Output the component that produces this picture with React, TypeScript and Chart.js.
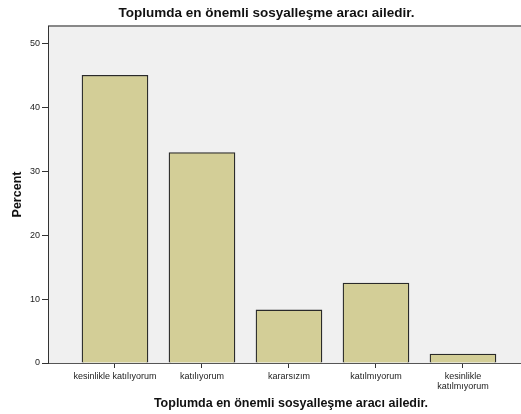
import { useEffect, useRef } from 'react';
import { Chart, registerables } from 'chart.js';

Chart.register(...registerables);

const TITLE = 'Toplumda en önemli sosyalleşme aracı ailedir.';
const X_TITLE = 'Toplumda en önemli sosyalleşme aracı ailedir.';
const Y_TITLE = 'Percent';
const categories: (string | string[])[] = [
  'kesinlikle katılıyorum',
  'katılıyorum',
  'kararsızım',
  'katılmıyorum',
  ['kesinlikle', 'katılmıyorum'],
];
const percents = [45.0, 32.9, 8.3, 12.5, 1.4];
const yTicks = [0, 10, 20, 30, 40, 50];

const FONT = '"Liberation Sans", Arial, sans-serif';

const frame = {
  id: 'spssFrame',
  beforeDraw(chart: any) {
    const { ctx, chartArea } = chart;
    ctx.save();
    ctx.fillStyle = '#f0f0f0';
    ctx.fillRect(chartArea.left, chartArea.top, chartArea.right - chartArea.left, chartArea.bottom - chartArea.top);
    ctx.strokeStyle = '#888888';
    ctx.lineWidth = 2;
    ctx.beginPath();
    ctx.moveTo(chartArea.left, chartArea.top);
    ctx.lineTo(chartArea.right, chartArea.top);
    ctx.stroke();
    ctx.restore();
  },
  afterDraw(chart: any) {
    const { ctx } = chart;
    ctx.save();
    ctx.fillStyle = '#111111';
    ctx.textAlign = 'center';
    ctx.textBaseline = 'middle';
    ctx.font = `bold 13.5px ${FONT}`;
    ctx.fillText(TITLE, 266.5, 13);
    ctx.font = `bold 12.5px ${FONT}`;
    ctx.fillText(X_TITLE, 291, 404);
    ctx.restore();
  },
};

export default function App() {
  const ref = useRef<HTMLCanvasElement | null>(null);

  useEffect(() => {
    if (!ref.current) return;
    const chart = new Chart(ref.current, {
      type: 'bar',
      data: {
        datasets: [
          {
            data: percents.map((v, i) => ({ x: i, y: v })),
            backgroundColor: '#d3ce97',
            borderColor: '#2a2a2a',
            borderWidth: 1.3,
            barThickness: 66,
          },
        ],
      },
      options: {
        responsive: false,
        animation: false,
        layout: { padding: { top: 26, left: 0, right: 0, bottom: 0 } },
        plugins: {
          legend: { display: false },
          tooltip: { enabled: false },
          title: { display: false },
        },
        scales: {
          x: {
            type: 'linear',
            min: -0.77,
            max: 4.667,
            offset: false,
            afterBuildTicks: (s: any) => {
              s.ticks = categories.map((_, i) => ({ value: i }));
            },
            afterFit: (s: any) => {
              s.height = 51;
            },
            ticks: {
              autoSkip: false,
              maxRotation: 0,
              padding: 4,
              color: '#222222',
              font: { family: FONT, size: 9, lineHeight: 1.1 },
              callback: (v: any) => categories[Math.round(Number(v))] as any,
            },
            grid: { offset: false, drawOnChartArea: false, drawTicks: true, tickLength: 5, color: '#333333' },
            border: { display: true, color: '#555555', width: 1 },
          },
          y: {
            type: 'linear',
            min: 0,
            max: 52.7,
            afterBuildTicks: (s: any) => {
              s.ticks = yTicks.map((v) => ({ value: v }));
            },
            afterFit: (s: any) => {
              s.width = 48;
            },
            ticks: {
              padding: 2,
              color: '#222222',
              font: { family: FONT, size: 9 },
            },
            grid: { drawOnChartArea: false, drawTicks: true, tickLength: 6, color: '#333333' },
            border: { display: true, color: '#333333', width: 1 },
            title: {
              display: true,
              text: Y_TITLE,
              color: '#111111',
              font: { family: FONT, size: 12.5, weight: 'bold' },
              padding: { top: 10, bottom: 0 },
            },
          },
        },
      },
      plugins: [frame],
    });
    return () => chart.destroy();
  }, []);

  return (
    <div style={{ position: 'absolute', left: 0, top: 0, width: 521, height: 414, background: '#ffffff' }}>
      <canvas ref={ref} width={521} height={414} style={{ display: 'block' }} />
    </div>
  );
}
